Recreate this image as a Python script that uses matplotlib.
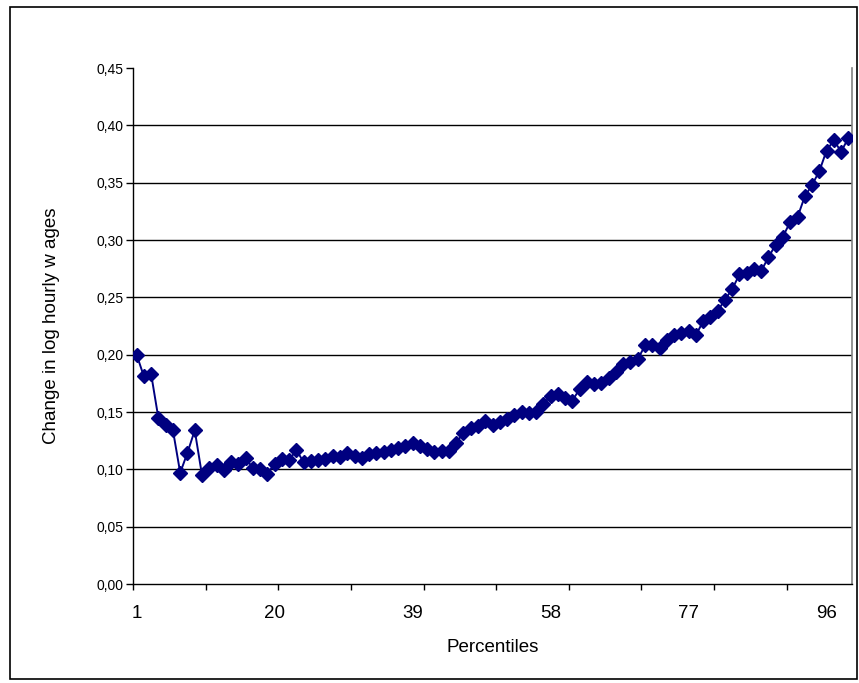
import matplotlib
matplotlib.use("Agg")
import matplotlib.pyplot as plt
from matplotlib.patches import Rectangle
import numpy as np

plt.rcParams['font.family'] = ['Liberation Sans', 'DejaVu Sans']

percentiles = list(range(1, 100))
wage_change = [
    0.200, 0.181, 0.183, 0.1445, 0.139, 0.134, 0.097, 0.1145, 0.134, 0.095,
    0.101, 0.104, 0.099, 0.106, 0.105, 0.110, 0.101, 0.100, 0.096, 0.105,
    0.109, 0.108, 0.117, 0.106, 0.107, 0.108, 0.109, 0.112, 0.111, 0.114,
    0.112, 0.110, 0.113, 0.114, 0.115, 0.117, 0.119, 0.120, 0.123, 0.120,
    0.118, 0.115, 0.116, 0.116, 0.123, 0.132, 0.136, 0.138, 0.142, 0.139,
    0.141, 0.144, 0.147, 0.150, 0.149, 0.150, 0.157, 0.164, 0.166, 0.162,
    0.160, 0.170, 0.176, 0.174, 0.175, 0.180, 0.185, 0.192, 0.194, 0.196,
    0.208, 0.208, 0.206, 0.213, 0.217, 0.219, 0.221, 0.217, 0.229, 0.233,
    0.238, 0.248, 0.257, 0.270, 0.271, 0.275, 0.273, 0.285, 0.296, 0.303,
    0.316, 0.320, 0.338, 0.348, 0.360, 0.378, 0.387, 0.377, 0.389,
]
x_labels = [1, 20, 39, 58, 77, 96]
y_ticks = [0.00, 0.05, 0.10, 0.15, 0.20, 0.25, 0.30, 0.35, 0.40, 0.45]

W, H = 859, 683
fig = plt.figure(figsize=(W / 100, H / 100), dpi=100)
fig.patch.set_facecolor('white')

# outer chart border
fig.add_artist(Rectangle((10 / W, 1 - 679 / H), (857 - 10) / W, (679 - 7) / H,
                         transform=fig.transFigure, fill=False,
                         edgecolor='black', linewidth=1.2))

left, right, top, bottom = 133, 852, 68, 584
ax = fig.add_axes([left / W, 1 - bottom / H, (right - left) / W, (bottom - top) / H])

ax.plot(percentiles, wage_change, color='#000080', linewidth=1.4,
        marker='D', markersize=7.0, markerfacecolor='#000080',
        markeredgecolor='#000080', zorder=3)

ax.set_xlim(0.5, len(percentiles) + 0.5)
ax.set_ylim(0, 0.45)

ax.set_yticks(y_ticks)
ax.set_yticklabels([f"{v:.2f}".replace('.', ',') for v in y_ticks], fontsize=10)
for v in y_ticks[1:-1]:
    ax.axhline(v, color='black', linewidth=1.0, zorder=1)

ax.set_xticks(x_labels)
ax.set_xticklabels([str(v) for v in x_labels], fontsize=13.5)
ax.tick_params(axis='x', which='major', length=0, pad=15)
ax.set_xticks(np.arange(0.5, len(percentiles) + 0.5, 10), minor=True)
ax.tick_params(axis='x', which='minor', length=4.5, width=1.0, color='black')
ax.tick_params(axis='y', which='major', length=5, width=1.0, pad=2)

for s in ['left', 'bottom']:
    ax.spines[s].set_color('black')
    ax.spines[s].set_linewidth(1.0)
ax.spines['top'].set_visible(False)
ax.spines['right'].set_color('#808080')
ax.spines['right'].set_linewidth(1.2)

ax.set_xlabel('Percentiles', fontsize=13.5, labelpad=12)
ax.set_ylabel('Change in log hourly w ages', fontsize=13.5, labelpad=26)

fig.savefig('out.png', dpi=100)
